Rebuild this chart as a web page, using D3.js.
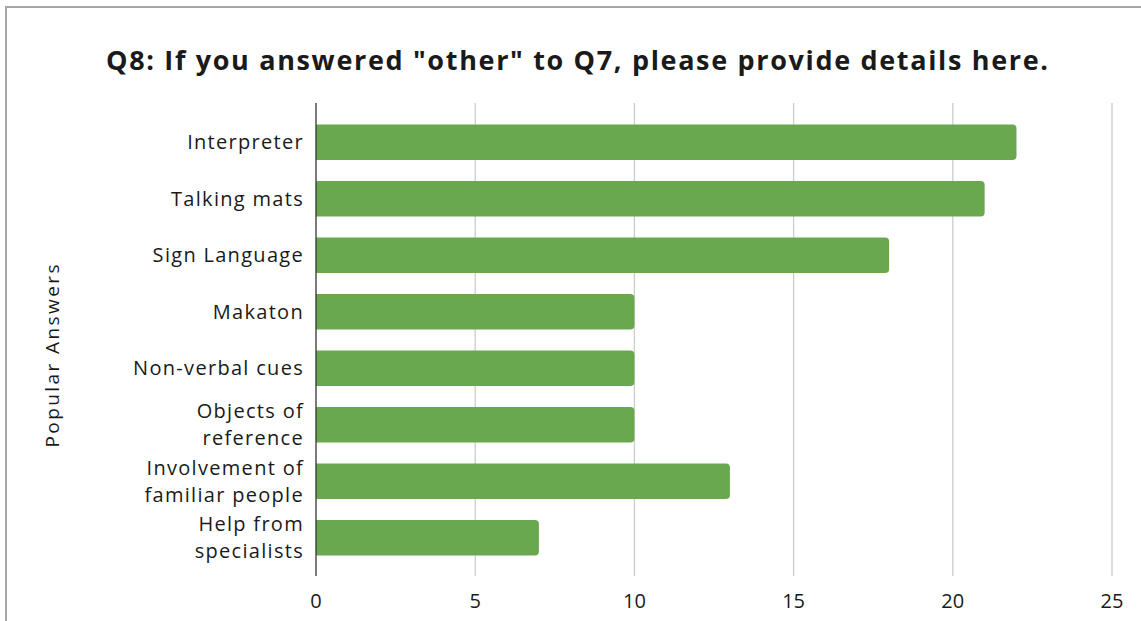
<!DOCTYPE html>
<html>
<head>
<meta charset="utf-8">
<script src="https://cdn.jsdelivr.net/npm/d3@7"></script>
<style>
  html, body { margin: 0; padding: 0; background: #fff; }
  svg { display: block; }
  text { font-family: "Open Sans", "Noto Sans", sans-serif; fill: #1a1a1a; }
</style>
</head>
<body>
<svg id="chart" width="1141" height="621"></svg>
<script>
// Survey answers and their counts
const categories = [
  ["Interpreter"],
  ["Talking mats"],
  ["Sign Language"],
  ["Makaton"],
  ["Non-verbal cues"],
  ["Objects of", "reference"],
  ["Involvement of", "familiar people"],
  ["Help from", "specialists"]
];
const counts = [22, 21, 18, 10, 10, 10, 13, 7];
const xTicks = [0, 5, 10, 15, 20, 25];
const titleText = "Q8: If you answered \"other\" to Q7, please provide details here.";
const yAxisTitle = "Popular Answers";

const svg = d3.select("#chart");
const W = 1141, H = 621;

// Outer frame
svg.append("rect")
  .attr("x", 6).attr("y", 7)
  .attr("width", W + 10).attr("height", H + 10)
  .attr("fill", "#fff")
  .attr("stroke", "#a6a6a6").attr("stroke-width", 2);

const plotLeft = 316, plotRight = 1112;
const axisTop = 103, axisBottom = 576;

const x = d3.scaleLinear().domain([0, 25]).range([plotLeft, plotRight]);
const y = d3.scaleBand()
  .domain(d3.range(categories.length))
  .range([114, 566])
  .paddingInner(0.37)
  .paddingOuter(0.185);

// Vertical gridlines
svg.append("g")
  .selectAll("line")
  .data(xTicks.filter(d => d !== 0))
  .join("line")
  .attr("x1", d => x(d)).attr("x2", d => x(d))
  .attr("y1", axisTop).attr("y2", axisBottom)
  .attr("stroke", "#cccccc").attr("stroke-width", 1.3);

// Bars with rounded ends on the value side
const r = 4;
svg.append("g")
  .selectAll("path")
  .data(counts)
  .join("path")
  .attr("fill", "#6aa84f")
  .attr("d", (d, i) => {
    const x0 = x(0), x1 = x(d), y0 = y(i), h = y.bandwidth();
    return `M${x0},${y0}H${x1 - r}Q${x1},${y0} ${x1},${y0 + r}` +
      `V${y0 + h - r}Q${x1},${y0 + h} ${x1 - r},${y0 + h}H${x0}Z`;
  });

// Category axis line
svg.append("line")
  .attr("x1", x(0)).attr("x2", x(0))
  .attr("y1", axisTop).attr("y2", axisBottom)
  .attr("stroke", "#333").attr("stroke-width", 1.3);

// Category labels
const lineH = 27;
const labelX = 304;
const labels = svg.append("g")
  .attr("text-anchor", "end")
  .style("font-size", "20px")
  .style("letter-spacing", "1.3px");
categories.forEach((lines, i) => {
  const cy = y(i) + y.bandwidth() / 2;
  const t = labels.append("text")
    .attr("y", cy - (lines.length - 1) * lineH / 2);
  lines.forEach((ln, j) => {
    t.append("tspan")
      .attr("x", labelX)
      .attr("dy", j === 0 ? "0.35em" : lineH)
      .text(ln);
  });
});

// Value axis tick labels
svg.append("g")
  .attr("text-anchor", "middle")
  .style("font-size", "20px")
  .selectAll("text")
  .data(xTicks)
  .join("text")
  .attr("x", d => x(d))
  .attr("y", 601)
  .attr("dy", "0.35em")
  .text(d => d);

// Chart title
svg.append("text")
  .attr("x", 577).attr("y", 61)
  .attr("dy", "0.35em")
  .attr("text-anchor", "middle")
  .attr("textLength", 942)
  .attr("lengthAdjust", "spacing")
  .style("font-size", "27px")
  .style("font-weight", "bold")
  .text(titleText);

// Vertical axis title
svg.append("text")
  .attr("transform", "translate(52,356) rotate(-90)")
  .attr("dy", "0.35em")
  .attr("text-anchor", "middle")
  .attr("textLength", 183)
  .attr("lengthAdjust", "spacing")
  .style("font-size", "19px")
  .text(yAxisTitle);
</script>
</body>
</html>
